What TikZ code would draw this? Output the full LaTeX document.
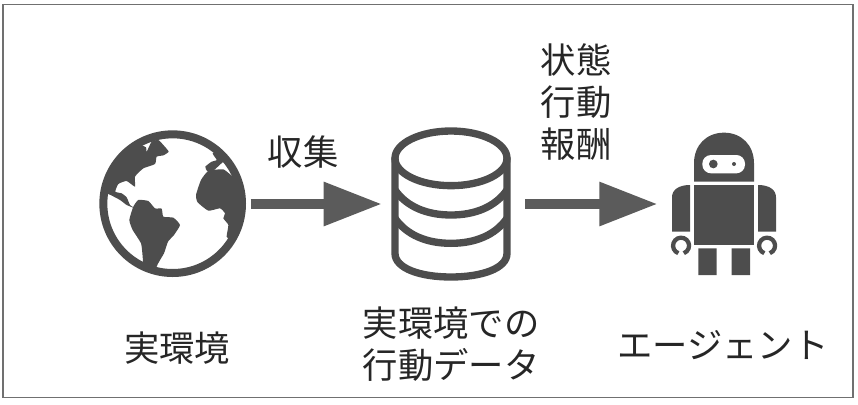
\documentclass[tikz,border=0pt]{standalone}
\usepackage{fontspec}
\usepackage{xcolor}
\usetikzlibrary{arrows.meta}
\newfontfamily\jpfont{Noto Sans CJK JP}
\definecolor{ink}{HTML}{4d4d4d}
\definecolor{framegray}{HTML}{707070}
\tikzset{
  lbl/.style={font=\jpfont\fontsize{26.5}{31.8}\selectfont, text=black!85, align=center},
  icon/.style={inner sep=0pt, outer sep=0pt, minimum height=117pt},
  flow/.style={-{Triangle[length=43.5pt,width=31.5pt]}, draw=ink!92, line width=7pt},
  solid ink/.style={fill=ink, draw=none},
  tube/.style={draw=ink, line width=5.5pt, fill=none},
}
\begin{document}
\begin{tikzpicture}[x=0.75pt,y=-0.75pt]
\useasboundingbox (0,0) rectangle (858,404);
\node[draw=framegray, line width=0.8pt, minimum width=637.5pt, minimum height=295pt, inner sep=0pt] (frame) at (428,201) {};
\node[icon, minimum width=117pt] (earth) at (172.7,204) {};
\node[icon, minimum width=102pt] (db) at (451,204) {};
\node[icon, minimum width=100pt] (robot) at (724,204) {};
% globe
\begin{scope}[shift={(80,110)},x=.25pt,y=-.25pt]
  \begin{scope}
    \clip (278,281) circle [radius=215];
    \fill[solid ink] plot[smooth cycle, tension=.3] coordinates {(40,240) (120,60) (170,98) (198,112) (200,125) (215,95) (235,90) (250,105) (266,125) (250,136) (230,140) (225,162) (190,175) (165,200) (165,230) (140,213) (115,222) (106,245) (125,250) (140,262) (150,285) (165,295) (140,285) (120,270) (85,252)};
    \fill[solid ink] plot[smooth cycle, tension=.3] coordinates {(160,290) (175,270) (205,273) (225,295) (245,296) (250,320) (280,323) (300,345) (282,375) (264,395) (252,430) (230,470) (240,510) (195,510) (188,440) (183,400) (158,360) (148,330)};
    \fill[solid ink] plot[smooth cycle, tension=.3] coordinates {(348,255) (363,210) (385,183) (430,178) (460,200) (520,220) (520,400) (455,392) (440,380) (445,345) (430,325) (435,310) (420,295) (385,302) (353,277)};
    \fill[solid ink] plot[smooth cycle, tension=.3] coordinates {(376,170) (395,155) (410,150) (398,130) (420,123) (442,155) (428,157) (400,182) (382,184)};
  \end{scope}
  \draw[ink, line width=6pt] (278,281) circle [radius=208];
\end{scope}
% stacked disks
\begin{scope}[shift={(370,110)},x=.25pt,y=-.25pt]
  \draw[tube] (243,145) ellipse [x radius=168, y radius=82];
  \foreach \ylev in {240,325}
    \draw[tube] (75,\ylev) .. controls (110,\ylev+50) and (170,\ylev+75) .. (243,\ylev+75) .. controls (316,\ylev+75) and (376,\ylev+50) .. (411,\ylev);
  \draw[tube, line cap=round] (75,145) -- (75,430) .. controls (75,475) and (150,501) .. (243,501) .. controls (336,501) and (411,475) .. (411,430) -- (411,145);
\end{scope}
% robot
\begin{scope}[shift={(640,110)},x=.25pt,y=-.25pt]
  \fill[solid ink] (162,215) -- (162,160) .. controls (162,105) and (200,68) .. (252,68) .. controls (304,68) and (342,105) .. (342,160) -- (342,215) -- cycle;
  \fill[white, rounded corners=6.5pt] (187,135) rectangle (315,190);
  \fill[solid ink] (220,162) circle [radius=13] (282,162) circle [radius=6];
  \fill[solid ink] (162,225) rectangle (342,405);
  \fill[solid ink] (150,225) -- (150,365) -- (96,365) -- (96,262) .. controls (96,240) and (115,225) .. (150,225) -- cycle;
  \fill[solid ink] (354,225) -- (354,365) -- (408,365) -- (408,262) .. controls (408,240) and (389,225) .. (354,225) -- cycle;
  \fill[solid ink] (175,415) rectangle (230,495) (275,415) rectangle (330,495);
  \draw[ink, line width=3.2pt] (115,429.6) arc [start angle=110, end angle=430, radius=24];
  \draw[ink, line width=3.2pt] (373,429.6) arc [start angle=110, end angle=430, radius=24];
\end{scope}
\draw[flow, shorten >=1pt] (earth) -- (db);
\draw[flow, shorten <=4.5pt] (db) -- (robot);
\node[lbl] (earthlbl) at (177,348) {実環境};
\node[lbl] (collectlbl) at (303,152) {収集};
\node[lbl] (statelbl) at (576,102) {状態\\行動\\報酬};
\node[lbl] (dblbl) at (451,344) {実環境での\\行動データ};
\node[lbl] (robotlbl) at (723,345) {エージェント};
\end{tikzpicture}
\end{document}
